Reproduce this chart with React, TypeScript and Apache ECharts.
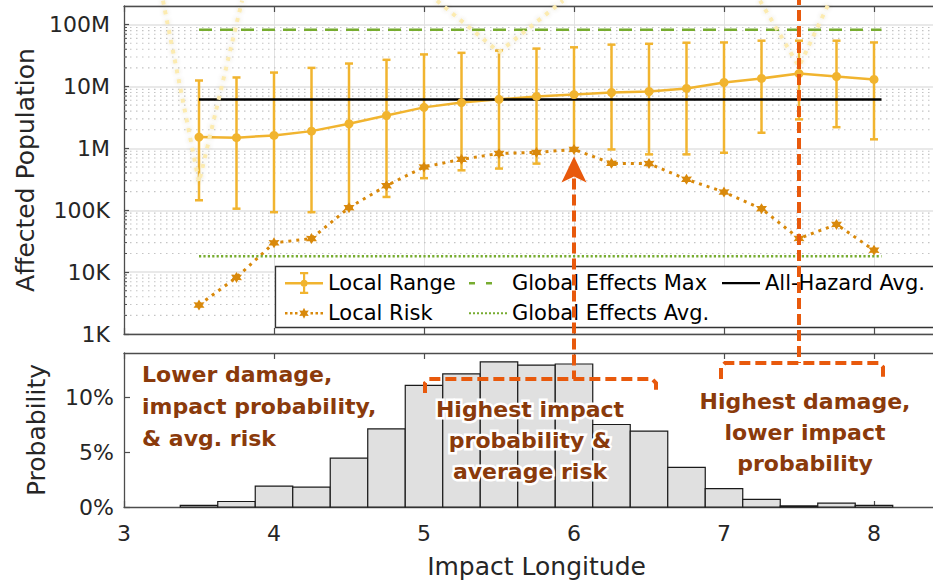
import React, { useEffect, useRef } from "react";
import * as echarts from "echarts";

// ---------- data ----------
const xs = [3.5, 3.75, 4, 4.25, 4.5, 4.75, 5, 5.25, 5.5, 5.75, 6, 6.25, 6.5, 6.75, 7, 7.25, 7.5, 7.75, 8];
const rangeMid = [1.52e6, 1.49e6, 1.62e6, 1.9e6, 2.5e6, 3.4e6, 4.6e6, 5.5e6, 6.2e6, 6.9e6, 7.4e6, 8.0e6, 8.3e6, 9.3e6, 11.6e6, 13.5e6, 16.2e6, 14.5e6, 13.0e6];
const rangeLow = [145e3, 106e3, 93e3, 93e3, 110e3, 164e3, 330e3, 442e3, 472e3, 567e3, 990e3, 960e3, 800e3, 800e3, 850e3, 1.79e6, 2.94e6, 2.2e6, 1.4e6];
const rangeHigh = [12.5e6, 14e6, 16.8e6, 20e6, 23.5e6, 27e6, 33e6, 35e6, 38e6, 41e6, 43e6, 47.5e6, 49e6, 51e6, 51.5e6, 55e6, 55e6, 55e6, 51.5e6];
const localRisk = [2.94e3, 8.2e3, 29.7e3, 34.9e3, 110e3, 250e3, 500e3, 665e3, 830e3, 861e3, 963e3, 573e3, 567e3, 316e3, 197e3, 106e3, 35e3, 59e3, 22.6e3];
const probability = [0.15, 0.5, 1.9, 1.8, 4.45, 7.1, 11.05, 12.1, 13.2, 12.9, 13.0, 7.5, 6.9, 3.6, 1.67, 0.7, 0.1, 0.35, 0.15];

const refSpan = [3.5, 8.05];
const globalEffectsMax = 83e6;
const allHazardAvg = 6.17e6;
const globalEffectsAvg = 18.1e3;

const yTickLabels: Record<number, string> = { 3: "1K", 4: "10K", 5: "100K", 6: "1M", 7: "10M", 8: "100M" };
const xTickLabels = ["3", "4", "5", "6", "7", "8"];

// pale highlight "V" marks (top-left end, vertex, top-right end)
const highlightV = [
  [[3.26, 2.44e8], [3.5, 2.83e5], [3.787, 2.44e8]],
  [[5.087, 2.44e8], [5.5, 3.6e7], [5.927, 2.44e8]],
  [[7.24, 2.44e8], [7.5, 2.1e7], [7.707, 2.44e8]],
];

const noteLeft = "Lower damage,\nimpact probability,\n& avg. risk";
const noteMid = "Highest impact\nprobability &\naverage risk";
const noteRight = "Highest damage,\nlower impact\nprobability";

// ---------- styles ----------
const FONT = "DejaVu Sans";
const C_RANGE = "#F1B42F";
const C_RISK = "#D9890B";
const C_GREEN = "#77AC30";
const C_ORANGE = "#E8590C";
const C_BROWN = "#8A3A0B";
const C_AXIS = "#4D4D4D";
const C_TEXT = "#262626";

const speck = "M0 0h0.01v0.01H0z M37.99 21.99h0.01v0.01h-0.01z ";
const iconRange =
  "path://" + speck + "M0 10h38v2.4H0z M18 0h2.2v22H18z M15 0h8.2v2.2H15z M15 19.8h8.2v2.2H15z M22.6 11.2a3.5 3.5 0 1 1 -7 0a3.5 3.5 0 1 1 7 0z";
const iconRisk = (() => {
  let d = "path://" + speck;
  [0, 5, 10, 25.5, 30.5, 35.5].forEach((x) => (d += `M${x} 10h2.5v2.5h-2.5z `));
  d += "M19 5.75L20.5 8.65L23.76 8.5L22 11.25L23.76 14L20.5 13.85L19 16.75L17.5 13.85L14.24 14L16 11.25L14.24 8.5L17.5 8.65Z";
  return d;
})();
const iconDash = "path://" + speck + "M0 10h6v2.5H0z M17 10h6v2.5h-6z";
const iconDot = (() => {
  let d = "path://" + speck;
  for (let i = 0; i < 10; i++) d += `M${i * 4} 10.2h2v2h-2z `;
  return d;
})();
const iconSolid = "path://" + speck + "M0 10h38v2.2H0z";
const starSymbol =
  "path://M10 0L12.75 5.24L18.66 5L15.5 10L18.66 15L12.75 14.76L10 20L7.25 14.76L1.34 15L4.5 10L1.34 5L7.25 5.24Z";

export default function App() {
  const ref = useRef<HTMLDivElement>(null);

  useEffect(() => {
    if (!ref.current) return;
    const chart = echarts.init(ref.current, null, { renderer: "svg" });

    const minorValues: number[] = [];
    for (let e = 3; e < 8; e++) for (let k = 2; k <= 9; k++) minorValues.push(k * Math.pow(10, e));

    const axisCommon = {
      axisLine: { show: true, onZero: false, lineStyle: { color: C_AXIS, width: 1.3 } },
      axisTick: { show: true, inside: true, length: 6, lineStyle: { color: C_AXIS, width: 1.2 } },
    };

    const legendBase = {
      selectedMode: false,
      padding: 0,
      itemWidth: 38,
      itemHeight: 22,
      itemGap: 0,
      orient: "horizontal",
      textStyle: { fontFamily: FONT, fontSize: 21, color: "#000", lineHeight: 22 },
      itemStyle: { borderWidth: 0 },
    };

    const option: any = {
      animation: false,
      textStyle: { fontFamily: FONT },
      grid: [
        { left: 124, top: 6, width: 825, height: 328, outerBoundsMode: "none", containLabel: false },
        { left: 124, top: 353, width: 825, height: 154, outerBoundsMode: "none", containLabel: false },
      ],
      xAxis: [
        {
          gridIndex: 0, type: "value", min: 3, max: 8.5, interval: 1, position: "bottom",
          ...axisCommon,
          axisLabel: { show: false },
          splitLine: { show: true, lineStyle: { color: "#E2E2E2", width: 1 } },
        },
        {
          gridIndex: 0, type: "value", min: 3, max: 8.5, interval: 1, position: "top",
          ...axisCommon,
          axisLabel: { show: false },
          splitLine: { show: false },
        },
        {
          gridIndex: 1, type: "value", min: 3, max: 8.5, interval: 1, position: "bottom",
          ...axisCommon,
          axisLabel: {
            show: true, margin: 15, fontSize: 22, color: C_TEXT, fontFamily: FONT, showMaxLabel: false,
            formatter: (v: number) => xTickLabels[Math.round(v) - 3] ?? "",
          },
          splitLine: { show: false },
          name: "Impact Longitude",
          nameLocation: "middle",
          nameGap: 47,
          nameTextStyle: { fontFamily: FONT, fontSize: 25, color: C_TEXT },
        },
        {
          gridIndex: 1, type: "value", min: 3, max: 8.5, interval: 1, position: "top",
          ...axisCommon,
          axisLabel: { show: false },
          splitLine: { show: false },
        },
      ],
      yAxis: [
        {
          gridIndex: 0, type: "log", logBase: 10, min: 1e3, max: 2e8, position: "left",
          ...axisCommon,
          axisTick: { show: true, inside: true, length: 5, lineStyle: { color: C_AXIS, width: 1.2 } },
          axisLabel: {
            margin: 14, fontSize: 22, color: C_TEXT, fontFamily: FONT, showMaxLabel: false,
            formatter: (v: number) => yTickLabels[Math.round(Math.log10(v))] ?? "",
          },
          splitLine: { show: true, lineStyle: { color: "#E2E2E2", width: 1.5 } },
          name: "Affected Population",
          nameLocation: "middle",
          nameGap: 75,
          nameTextStyle: { fontFamily: FONT, fontSize: 25, color: C_TEXT },
        },
        {
          gridIndex: 1, type: "value", min: 0, max: 14, interval: 5, position: "left",
          ...axisCommon,
          axisLabel: {
            margin: 10, fontSize: 22, color: C_TEXT, fontFamily: FONT, showMaxLabel: false,
            formatter: "{value}%",
          },
          splitLine: { show: false },
          name: "Probability",
          nameLocation: "middle",
          nameGap: 75,
          nameTextStyle: { fontFamily: FONT, fontSize: 25, color: C_TEXT },
        },
      ],
      legend: [
        { ...legendBase, left: 285, top: 272, data: [{ name: "Local Range", icon: iconRange }] },
        { ...legendBase, left: 469, top: 272, data: [{ name: "Global Effects Max", icon: iconDash }] },
        { ...legendBase, left: 722, top: 272, data: [{ name: "All-Hazard Avg.", icon: iconSolid }] },
        { ...legendBase, left: 285, top: 302, data: [{ name: "Local Risk", icon: iconRisk }] },
        { ...legendBase, left: 469, top: 302, data: [{ name: "Global Effects Avg.", icon: iconDot }] },
      ],
      series: [
        {
          type: "custom",
          name: "minor grid",
          xAxisIndex: 0,
          yAxisIndex: 0,
          silent: true,
          z: 1,
          data: minorValues.map((v) => [3, v]),
          encode: { x: 0, y: 1 },
          renderItem: (_p: any, api: any) => {
            const v = api.value(1);
            const a = api.coord([3, v]);
            const b = api.coord([8.5, v]);
            return {
              type: "group",
              children: [
                { type: "line", shape: { x1: a[0], y1: a[1], x2: b[0], y2: b[1] }, style: { stroke: "#C4C4C4", lineWidth: 1.1, lineDash: [1.5, 4.5] } },
                { type: "line", shape: { x1: a[0], y1: a[1], x2: a[0] + 3, y2: a[1] }, style: { stroke: C_AXIS, lineWidth: 1 } },
              ],
            };
          },
        },
        {
          type: "custom",
          name: "Local Range bars",
          xAxisIndex: 0,
          yAxisIndex: 0,
          silent: true,
          z: 2,
          data: xs.map((x, i) => [x, rangeLow[i], rangeHigh[i]]),
          encode: { x: 0, y: [1, 2] },
          renderItem: (_p: any, api: any) => {
            const x = api.value(0);
            const lo = api.coord([x, api.value(1)]);
            const hi = api.coord([x, api.value(2)]);
            const st = { stroke: C_RANGE, lineWidth: 2.5 };
            const cw = 4;
            return {
              type: "group",
              children: [
                { type: "line", shape: { x1: lo[0], y1: lo[1], x2: hi[0], y2: hi[1] }, style: st },
                { type: "line", shape: { x1: lo[0] - cw, y1: lo[1], x2: lo[0] + cw, y2: lo[1] }, style: st },
                { type: "line", shape: { x1: hi[0] - cw, y1: hi[1], x2: hi[0] + cw, y2: hi[1] }, style: st },
              ],
            };
          },
        },
        {
          type: "line",
          name: "Local Range",
          xAxisIndex: 0,
          yAxisIndex: 0,
          z: 2,
          data: xs.map((x, i) => [x, rangeMid[i]]),
          symbol: "circle",
          symbolSize: 9,
          itemStyle: { color: C_RANGE },
          lineStyle: { color: C_RANGE, width: 2.5 },
        },
        {
          type: "line",
          name: "Local Risk",
          xAxisIndex: 0,
          yAxisIndex: 0,
          z: 2,
          data: xs.map((x, i) => [x, localRisk[i]]),
          symbol: starSymbol,
          symbolSize: 11,
          itemStyle: { color: C_RISK },
          lineStyle: { color: C_RISK, width: 3, type: [3, 5] },
        },
        {
          type: "line",
          name: "Global Effects Max",
          xAxisIndex: 0,
          yAxisIndex: 0,
          z: 2,
          symbol: "none",
          data: refSpan.map((x) => [x, globalEffectsMax]),
          itemStyle: { color: C_GREEN },
          lineStyle: { color: C_GREEN, width: 2.5, type: [13, 8] },
        },
        {
          type: "line",
          name: "Global Effects Avg.",
          xAxisIndex: 0,
          yAxisIndex: 0,
          z: 2,
          symbol: "none",
          data: refSpan.map((x) => [x, globalEffectsAvg]),
          itemStyle: { color: C_GREEN },
          lineStyle: { color: C_GREEN, width: 2.5, type: [2.2, 2.2] },
        },
        {
          type: "line",
          name: "All-Hazard Avg.",
          xAxisIndex: 0,
          yAxisIndex: 0,
          z: 2,
          symbol: "none",
          data: refSpan.map((x) => [x, allHazardAvg]),
          itemStyle: { color: "#000" },
          lineStyle: { color: "#000", width: 2.5 },
        },
        ...highlightV.map((pts, i) => ({
          type: "line",
          name: "highlight " + i,
          xAxisIndex: 0,
          yAxisIndex: 0,
          z: 3,
          silent: true,
          clip: false,
          symbol: "none",
          data: pts,
          lineStyle: {
            color: "#FCEBB0",
            width: 4,
            type: [4, 6],
            shadowBlur: 4,
            shadowColor: "rgba(110,90,30,0.22)",
          },
        })),
        {
          type: "custom",
          name: "Probability",
          xAxisIndex: 2,
          yAxisIndex: 1,
          silent: true,
          z: 2,
          data: xs.map((x, i) => [x, probability[i]]),
          encode: { x: 0, y: 1 },
          renderItem: (_p: any, api: any) => {
            const x = api.value(0);
            const h = api.value(1);
            const p0 = api.coord([x - 0.125, 0]);
            const p1 = api.coord([x + 0.125, h]);
            return {
              type: "rect",
              shape: { x: p0[0], y: p1[1], width: p1[0] - p0[0], height: p0[1] - p1[1] },
              style: { fill: "#E0E0E0", stroke: "#1A1A1A", lineWidth: 1.2 },
            };
          },
        },
      ],
    };

    chart.setOption(option);

    const xR = chart.convertToPixel({ xAxisIndex: 0 }, 7.5) as number;
    const xM = chart.convertToPixel({ xAxisIndex: 0 }, 6) as number;
    const tipY = (chart.convertToPixel({ yAxisIndex: 0 }, localRisk[10]) as number) + 7;

    const dashStyle = {
      stroke: C_ORANGE,
      lineWidth: 4,
      lineDash: [11, 5],
      fill: null,
    };
    const noteStyle = (text: string, align: string, lh: number) => ({
      text,
      fill: C_BROWN,
      fontFamily: FONT,
      fontWeight: "bold",
      fontSize: 22,
      lineHeight: lh,
      textAlign: align,
      align,
      verticalAlign: "middle",
      textVerticalAlign: "middle",
      stroke: "#fff",
      lineWidth: 5,
      strokeFirst: true,
    });

    chart.setOption({
      graphic: [
        {
          type: "rect",
          z: 3,
          shape: { x: 275.5, y: 266.5, width: 720, height: 61 },
          style: { fill: "#fff", stroke: "#333", lineWidth: 1.3 },
        },
        { type: "line", z: 10, shape: { x1: xR, y1: -6, x2: xR, y2: 363 }, style: dashStyle },
        {
          type: "polyline",
          z: 10,
          shape: { points: [[xR - 78, 379], [xR - 78, 367], [xR - 74, 363], [xR + 80, 363], [xR + 84, 367], [xR + 84, 379]] },
          style: dashStyle,
        },
        { type: "line", z: 10, shape: { x1: xM, y1: tipY + 22, x2: xM, y2: 379 }, style: dashStyle },
        {
          type: "polyline",
          z: 10,
          shape: { points: [[xM - 149, 393], [xM - 149, 383], [xM - 145, 379], [xM + 78, 379], [xM + 82, 383], [xM + 82, 393]] },
          style: dashStyle,
        },
        {
          type: "polygon",
          z: 10,
          shape: { points: [[xM, tipY], [xM - 12.5, tipY + 26], [xM, tipY + 20], [xM + 12.5, tipY + 26]] },
          style: { fill: C_ORANGE },
        },
        { type: "text", z: 11, x: 142, y: 406, style: noteStyle(noteLeft, "left", 32) },
        { type: "text", z: 11, x: 530, y: 440, style: noteStyle(noteMid, "center", 31) },
        { type: "text", z: 11, x: 805, y: 432, style: noteStyle(noteRight, "center", 31) },
      ],
    });

    return () => chart.dispose();
  }, []);

  return (
    <div
      ref={ref}
      style={{ position: "fixed", left: 0, top: 0, width: 933, height: 581, background: "#fff" }}
    />
  );
}
